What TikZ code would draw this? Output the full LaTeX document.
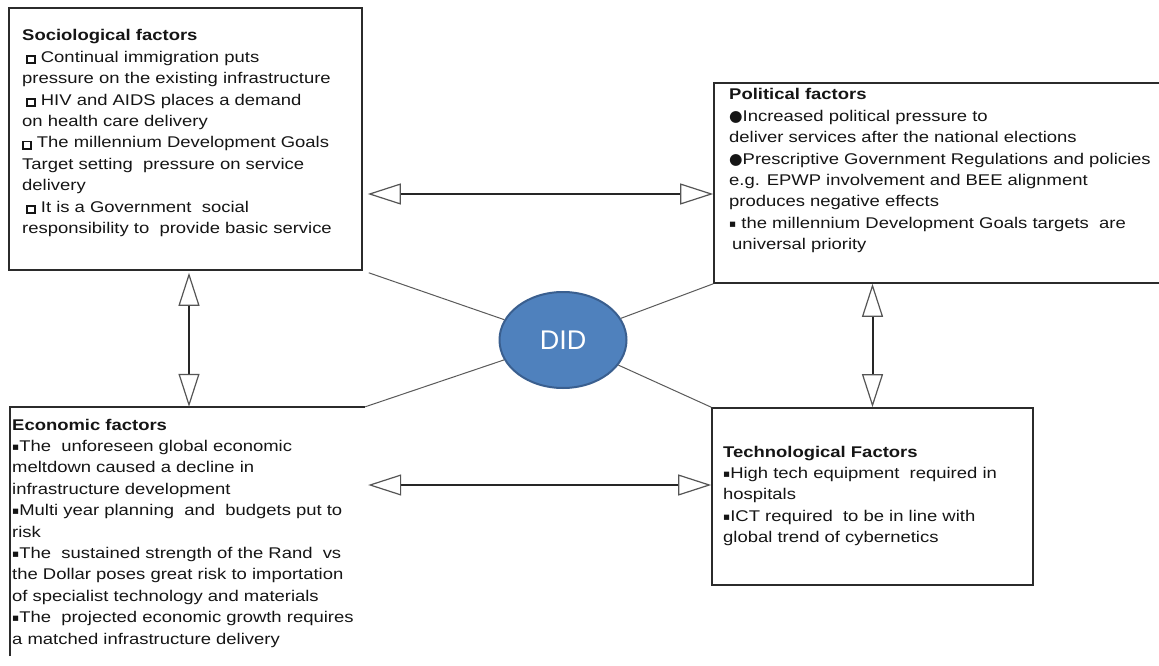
\documentclass[tikz,border=0pt]{standalone}
\usepackage{fontspec}
\setmainfont[FakeStretch=1.19]{Liberation Sans}
\newfontfamily\symfont{DejaVu Sans}
\newfontfamily\didfont{Liberation Sans}
\usetikzlibrary{arrows.meta,shapes.geometric}

\definecolor{framec}{HTML}{2B2B2B}
\definecolor{textc}{HTML}{151515}
\definecolor{shaftc}{HTML}{262626}
\definecolor{tipc}{HTML}{555555}
\definecolor{spokec}{HTML}{5A5A5A}
\definecolor{didfill}{HTML}{4F81BD}
\definecolor{didedge}{HTML}{3A5F8F}

% bullet glyphs
\newcommand\sqbul{{\setlength\fboxrule{1.8pt}\setlength\fboxsep{0pt}%
  \fbox{\rule{0pt}{5.5pt}\hspace{6pt}}}}
\newcommand\dotbul{{\symfont ●}}
\newcommand\smsqbul{{\symfont\fontsize{10.5}{10}\selectfont\raisebox{0.8pt}{▪}}}

\tikzset{
  frame/.style={draw=framec, line width=1.6pt, rectangle, inner sep=0pt},
  area/.style={rectangle, inner sep=0pt},
  edge/.style={draw=framec, line width=1.6pt},
  txt/.style={anchor=base west, inner sep=0pt, text=textc,
    font=\fontsize{15.5}{21.4}\selectfont},
  dblarrow/.style={draw=shaftc, line width=2pt,
    {Triangle[open,length=33pt,width=21pt,line width=1.2pt,color=tipc]}-{Triangle[open,length=33pt,width=21pt,line width=1.2pt,color=tipc]}},
  spoke/.style={draw=spokec, line width=1pt},
}

\begin{document}
\begin{tikzpicture}[x=1pt,y=-1pt]
\useasboundingbox (0,0) rectangle (1159,666);
\fill[white] (0,0) rectangle (1159,666);

% factor boxes
\node[frame, minimum width=353pt, minimum height=262pt] (soc) at (185.5,139) {};
\node[frame, minimum width=461pt, minimum height=200pt] (pol) at (944.5,183) {};
\node[area, minimum width=355pt, minimum height=249pt] (econ) at (187.5,531.5) {};
\node[frame, minimum width=321pt, minimum height=177pt] (tech) at (872.5,496.5) {};
\draw[edge] (econ.south west) -- (econ.north west) -- (econ.north east);

% central ellipse
\node[ellipse, minimum width=127pt, minimum height=96pt, inner sep=0pt,
      fill=didfill, draw=didedge, line width=2pt, text=white,
      font=\didfont\fontsize{27}{30}\selectfont] (did) at (563,340) {DID};

% spokes to the centre
\draw[spoke] ([shift={(6,2)}]soc.south east) -- (did);
\draw[spoke] (pol.south west) -- (did);
\draw[spoke] (econ.north east) -- (did);
\draw[spoke] (tech.north west) -- (did);

% two-way arrows between the boxes
\draw[dblarrow, shorten <=5pt] (soc.east |- 0,194) -- (pol.west |- 0,194);
\draw[dblarrow, shorten <=3pt] (econ.east |- 0,485) -- (tech.west |- 0,485);
\draw[dblarrow] ([xshift=3.5pt,yshift=-2pt]soc.south) -- ([xshift=1.5pt]econ.north);
\draw[dblarrow] (tech.north |- pol.south) -- (tech.north);

% box texts
\node[txt] (soctxt) at (22,41) {\begin{minipage}[t]{345pt}
\textbf{Sociological factors}\\
\hspace*{4pt}\sqbul\ Continual immigration puts\\
pressure on the existing infrastructure\\
\hspace*{4pt}\sqbul\ HIV and AIDS places a demand\\
on health care delivery\\
\sqbul\ The millennium Development Goals\\
Target setting \ pressure on service\\
delivery\\
\hspace*{4pt}\sqbul\ It is a Government \ social\\
responsibility to \ provide basic service
\end{minipage}};

\node[txt] (poltxt) at (729,100) {\begin{minipage}[t]{430pt}
\textbf{Political factors}\\
\dotbul Increased political pressure to\\
deliver services after the national elections\\
\dotbul Prescriptive Government Regulations and policies\\
e.g. EPWP involvement and BEE alignment\\
produces negative effects\\
\smsqbul\ the millennium Development Goals targets \ are\\
\hspace*{3pt}universal priority
\end{minipage}};

\node[txt] (econtxt) at (12,430) {\begin{minipage}[t]{350pt}
\textbf{Economic factors}\\
\smsqbul The \ unforeseen global economic\\
meltdown caused a decline in\\
infrastructure development\\
\smsqbul Multi year planning \ and \ budgets put to\\
risk\\
\smsqbul The \ sustained strength of the Rand \ vs\\
the Dollar poses great risk to importation\\
of specialist technology and materials\\
\smsqbul The \ projected economic growth requires\\
a matched infrastructure delivery
\end{minipage}};

\node[txt] (techtxt) at (723,457) {\begin{minipage}[t]{310pt}
\textbf{Technological Factors}\\
\smsqbul High tech equipment \ required in\\
hospitals\\
\smsqbul ICT required \ to be in line with\\
global trend of cybernetics
\end{minipage}};
\end{tikzpicture}
\end{document}
